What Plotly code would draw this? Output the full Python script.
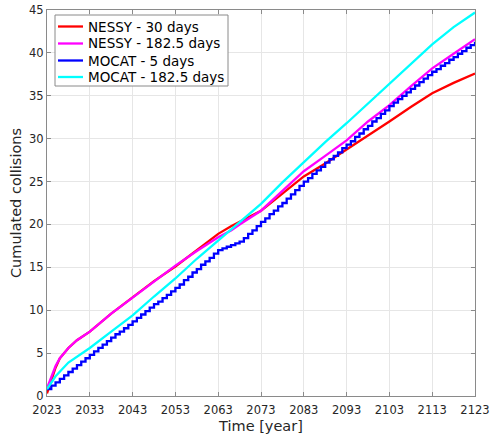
import plotly.graph_objects as go

# Sampling years for the NESSY curves
years_nessy = [2023, 2024, 2025, 2026, 2028, 2030, 2033, 2038, 2043, 2048, 2053, 2058,
               2063, 2066, 2068, 2073, 2078, 2083, 2088, 2093, 2098, 2103, 2108, 2113,
               2118, 2123]

nessy_30 = [0.3, 1.9, 3.3, 4.4, 5.6, 6.5, 7.5, 9.6, 11.5, 13.4, 15.1, 17.0,
            18.9, 19.8, 20.3, 21.6, 23.6, 25.6, 27.1, 28.7, 30.3, 32.0, 33.7, 35.3,
            36.5, 37.6]

nessy_182 = [0.9, 2.3, 3.5, 4.4, 5.6, 6.5, 7.5, 9.6, 11.5, 13.4, 15.2, 16.9,
             18.5, 19.3, 20.0, 21.6, 23.9, 26.2, 28.0, 29.8, 32.0, 33.9, 36.1, 38.2,
             39.9, 41.6]

# MOCAT 182.5-day run
years_mocat182 = [2023, 2025, 2028, 2033, 2038, 2043, 2048, 2053, 2058, 2063, 2068,
                  2073, 2078, 2083, 2088, 2093, 2098, 2103, 2108, 2113, 2118, 2123]
mocat_182 = [0.8, 2.3, 3.9, 5.6, 7.5, 9.4, 11.6, 13.7, 16.0, 18.1, 20.2,
             22.4, 24.9, 27.3, 29.6, 31.8, 34.1, 36.5, 38.8, 41.0, 43.0, 44.7]

# MOCAT 5-day run, yearly output (stepwise)
years_mocat5 = list(range(2023, 2124))
mocat_5 = [0.8, 1.2, 1.6, 2.0, 2.4, 2.8, 3.2, 3.6, 4.0, 4.4, 4.8,
           5.2, 5.6, 6.0, 6.4, 6.8, 7.2, 7.5, 7.9, 8.3, 8.7,
           9.1, 9.5, 9.9, 10.3, 10.7, 11.0, 11.4, 11.8, 12.2, 12.6,
           13.0, 13.5, 13.9, 14.4, 14.8, 15.3, 15.7, 16.1, 16.6, 17.0,
           17.2, 17.4, 17.6, 17.8, 18.0, 18.4, 18.9, 19.3, 19.8, 20.3,
           20.7, 21.2, 21.6, 22.1, 22.5, 23.0, 23.5, 24.0, 24.5, 25.0,
           25.4, 25.9, 26.3, 26.7, 27.2, 27.6, 28.0, 28.4, 28.9, 29.3,
           29.7, 30.2, 30.6, 31.1, 31.5, 32.0, 32.4, 32.9, 33.3, 33.8,
           34.2, 34.6, 35.0, 35.4, 35.8, 36.2, 36.6, 37.0, 37.4, 37.8,
           38.1, 38.5, 38.8, 39.2, 39.5, 39.9, 40.2, 40.6, 40.9, 41.3]

x_ticks = [2023, 2033, 2043, 2053, 2063, 2073, 2083, 2093, 2103, 2113, 2123]
y_ticks = [0, 5, 10, 15, 20, 25, 30, 35, 40, 45]

series = [
    ("NESSY - 30 days", "#ff0000", years_nessy, nessy_30, "linear"),
    ("NESSY - 182.5 days", "#ff00ff", years_nessy, nessy_182, "linear"),
    ("MOCAT - 5 days", "#0000ff", years_mocat5, mocat_5, "hv"),
    ("MOCAT - 182.5 days", "#00ffff", years_mocat182, mocat_182, "linear"),
]

FONT = "DejaVu Sans"
AXIS_COLOR = "#8a8a8a"
TEXT_COLOR = "#262626"

W, H = 490, 437
M_L, M_R, M_T, M_B = 47, 15, 10, 41
PW, PH = W - M_L - M_R, H - M_T - M_B


def px_to_paper(px, py):
    """Pixel position in the figure -> paper coordinates of the plot area."""
    return (px - M_L) / PW, (H - M_B - py) / PH


fig = go.Figure()
for name, color, xs, ys, shape in series:
    fig.add_trace(go.Scatter(x=xs, y=ys, mode="lines", name=name,
                             line=dict(color=color, width=2.3, shape=shape)))

axis_common = dict(
    automargin=False,
    showgrid=True, gridcolor="#e6e6e6", gridwidth=1,
    showline=True, linecolor=AXIS_COLOR, linewidth=1, mirror="ticks",
    ticks="inside", ticklen=4, tickcolor=AXIS_COLOR,
    tickfont=dict(family=FONT, size=11.5, color=TEXT_COLOR),
    ticklabeloverflow="allow",
    zeroline=False,
)

fig.update_xaxes(range=[2023, 2123], tickvals=x_ticks, ticklabelstandoff=3,
                 title=dict(text="Time [year]", standoff=5,
                            font=dict(family=FONT, size=14.5, color=TEXT_COLOR)),
                 **axis_common)
fig.update_yaxes(range=[0, 45], tickvals=y_ticks,
                 title=dict(text="Cumulated collisions", standoff=3,
                            font=dict(family=FONT, size=14.5, color=TEXT_COLOR)),
                 **axis_common)

# Boxed legend in the upper-left corner of the axes
shapes = []
annotations = []
x0, y0 = px_to_paper(55, 15)
x1, y1 = px_to_paper(228, 86)
shapes.append(dict(type="rect", xref="paper", yref="paper", x0=x0, y0=y1, x1=x1, y1=y0,
                   line=dict(color=AXIS_COLOR, width=1), fillcolor="white", layer="above"))
row_y = [26.5, 43.5, 60.5, 77]
for (name, color, *_), ry in zip(series, row_y):
    lx0, ly = px_to_paper(58, ry)
    lx1, _ = px_to_paper(83, ry)
    shapes.append(dict(type="line", xref="paper", yref="paper", x0=lx0, x1=lx1, y0=ly, y1=ly,
                       line=dict(color=color, width=2.3), layer="above"))
    tx, _ = px_to_paper(86, ry)
    annotations.append(dict(xref="paper", yref="paper", x=tx, y=ly, text=name,
                            showarrow=False, xanchor="left", yanchor="middle",
                            font=dict(family=FONT, size=13.5, color="#000000")))

fig.update_layout(
    width=W, height=H,
    margin=dict(l=M_L, r=M_R, t=M_T, b=M_B),
    paper_bgcolor="white", plot_bgcolor="white",
    showlegend=False,
    shapes=shapes, annotations=annotations,
)

fig.write_html("out.html")
